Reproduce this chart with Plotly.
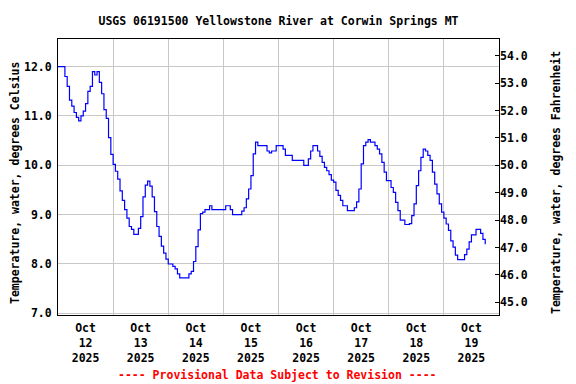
import pandas as pd
import plotly.graph_objects as go

# Hourly water temperature readings (deg C), starting 2025-10-12 00:00
start_time = "2025-10-12 00:00"
temp_c = [
    12.0, 12.0, 12.0, 11.8, 11.6, 11.32, 11.2, 11.07, 10.97, 10.9, 11.0, 11.1,
    11.25, 11.5, 11.6, 11.9, 11.83, 11.9, 11.68, 11.45, 11.13, 10.95, 10.56, 10.22,
    10.02, 9.88, 9.72, 9.48, 9.29, 9.1, 8.93, 8.76, 8.7, 8.6, 8.6, 8.72,
    8.96, 9.36, 9.6, 9.68, 9.58, 9.36, 9.06, 8.76, 8.56, 8.36, 8.22, 8.1,
    8.0, 8.0, 7.95, 7.9, 7.8, 7.72, 7.72, 7.72, 7.72, 7.8, 7.85, 8.05,
    8.35, 8.69, 9.02, 9.05, 9.1, 9.1, 9.18, 9.1, 9.1, 9.1, 9.1, 9.1,
    9.1, 9.18, 9.18, 9.1, 9.0, 9.0, 9.0, 9.0, 9.07, 9.14, 9.32, 9.52,
    9.79, 10.23, 10.47, 10.4, 10.4, 10.4, 10.4, 10.29, 10.25, 10.29, 10.29, 10.4,
    10.4, 10.4, 10.33, 10.2, 10.2, 10.2, 10.1, 10.1, 10.1, 10.1, 10.1, 10.0,
    10.0, 10.13, 10.29, 10.4, 10.4, 10.29, 10.18, 10.06, 9.96, 9.89, 9.81, 9.7,
    9.66, 9.49, 9.39, 9.29, 9.18, 9.18, 9.08, 9.08, 9.08, 9.14, 9.26, 9.52,
    10.03, 10.4, 10.47, 10.52, 10.47, 10.47, 10.4, 10.33, 10.23, 10.06, 9.86, 9.69,
    9.69, 9.55, 9.45, 9.25, 9.08, 8.89, 8.89, 8.8, 8.8, 8.82, 8.98, 9.22,
    9.59, 9.89, 10.16, 10.33, 10.29, 10.2, 10.1, 9.86, 9.62, 9.42, 9.22, 9.05,
    8.93, 8.81, 8.68, 8.47, 8.34, 8.18, 8.09, 8.09, 8.09, 8.19, 8.3, 8.45,
    8.59, 8.59, 8.7, 8.7, 8.62, 8.5, 8.4,
]
day_labels = ["Oct<br>12<br>2025", "Oct<br>13<br>2025", "Oct<br>14<br>2025", "Oct<br>15<br>2025",
              "Oct<br>16<br>2025", "Oct<br>17<br>2025", "Oct<br>18<br>2025", "Oct<br>19<br>2025"]
day_starts = ["2025-10-12", "2025-10-13", "2025-10-14", "2025-10-15",
              "2025-10-16", "2025-10-17", "2025-10-18", "2025-10-19", "2025-10-20"]

times = pd.date_range(start_time, periods=len(temp_c), freq="h")
temp_f = [c * 1.8 + 32 for c in temp_c]

noon = [pd.Timestamp(d) + pd.Timedelta(hours=12) for d in day_starts[:-1]]
midnight = [pd.Timestamp(d) for d in day_starts]

FONT = "DejaVu Sans Mono"
FS = 11.5
y_range = [6.966, 12.56]
y2_range = [v * 1.8 + 32 for v in y_range]

# The page places the figure 8px from the top-left corner, so the figure is 8px smaller
OFF = 8
W, H = 576 - OFF, 384 - OFF
L, T = 58 - OFF, 39 - OFF
PW, PH = 441, 276
R, B = W - L - PW, H - T - PH

def px(x):
    return (x - OFF - L) / PW

def py(y):
    return (T + PH - (y - OFF)) / PH

fig = go.Figure()
fig.add_trace(go.Scatter(x=times, y=temp_c, mode="lines", line=dict(color="#0000FF", width=1.2, shape="hv"),
                         showlegend=False, hoverinfo="x+y"))
fig.add_trace(go.Scatter(x=times, y=temp_f, mode="lines", line=dict(color="rgba(0,0,0,0)", width=0),
                         yaxis="y2", showlegend=False, hoverinfo="skip"))

fig.update_layout(
    width=W, height=H,
    margin=dict(l=L, r=R, t=T, b=B, autoexpand=False),
    paper_bgcolor="white", plot_bgcolor="white",
    font=dict(family=FONT, size=FS, color="black", weight="bold"),
    title=dict(text="USGS 06191500 Yellowstone River at Corwin Springs MT",
               x=0.5, xref="paper", y=1 - (21 - OFF) / H, yref="container", yanchor="middle",
               automargin=False,
               font=dict(family=FONT, size=FS, color="black", weight="bold")),
    xaxis=dict(range=[midnight[0], midnight[-1]], tickmode="array", tickvals=noon, ticktext=day_labels,
               showgrid=False, ticks="", showline=True, linecolor="black", linewidth=1, mirror=True,
               zeroline=False, ticklabelstandoff=2, automargin=False,
               minor=dict(tickvals=midnight, showgrid=True, gridcolor="#C8C8C8", gridwidth=1, ticks=""),
               tickfont=dict(family=FONT, size=FS, color="black", weight="bold")),
    yaxis=dict(range=y_range, tickmode="linear", tick0=7, dtick=1, tickformat=".1f",
               showgrid=True, gridcolor="#C8C8C8", gridwidth=1, ticks="", zeroline=False,
               showline=True, linecolor="black", linewidth=1, mirror=True, ticklabelstandoff=3,
               automargin=False,
               tickfont=dict(family=FONT, size=FS, color="black", weight="bold")),
    yaxis2=dict(range=y2_range, overlaying="y", side="right", tickmode="linear", tick0=45, dtick=1,
                tickformat=".1f", showgrid=False, ticks="inside", ticklen=4, tickcolor="black",
                zeroline=False, showline=False, automargin=False,
                tickfont=dict(family=FONT, size=FS, color="black", weight="bold")),
    annotations=[
        dict(text="Temperature, water, degrees Celsius", xref="paper", yref="paper",
             x=px(15), y=py(183), textangle=-90, showarrow=False,
             xanchor="center", yanchor="middle",
             font=dict(family=FONT, size=FS, color="black", weight="bold")),
        dict(text="Temperature, water, degrees Fahrenheit", xref="paper", yref="paper",
             x=px(556), y=py(183), textangle=-90, showarrow=False,
             xanchor="center", yanchor="middle",
             font=dict(family=FONT, size=FS, color="black", weight="bold")),
        dict(text="---- Provisional Data Subject to Revision ----", xref="paper", yref="paper",
             x=px(277), y=py(375), showarrow=False,
             xanchor="center", yanchor="middle",
             font=dict(family=FONT, size=FS, color="#FF0000", weight="bold")),
    ],
)

fig.write_html("out.html")
